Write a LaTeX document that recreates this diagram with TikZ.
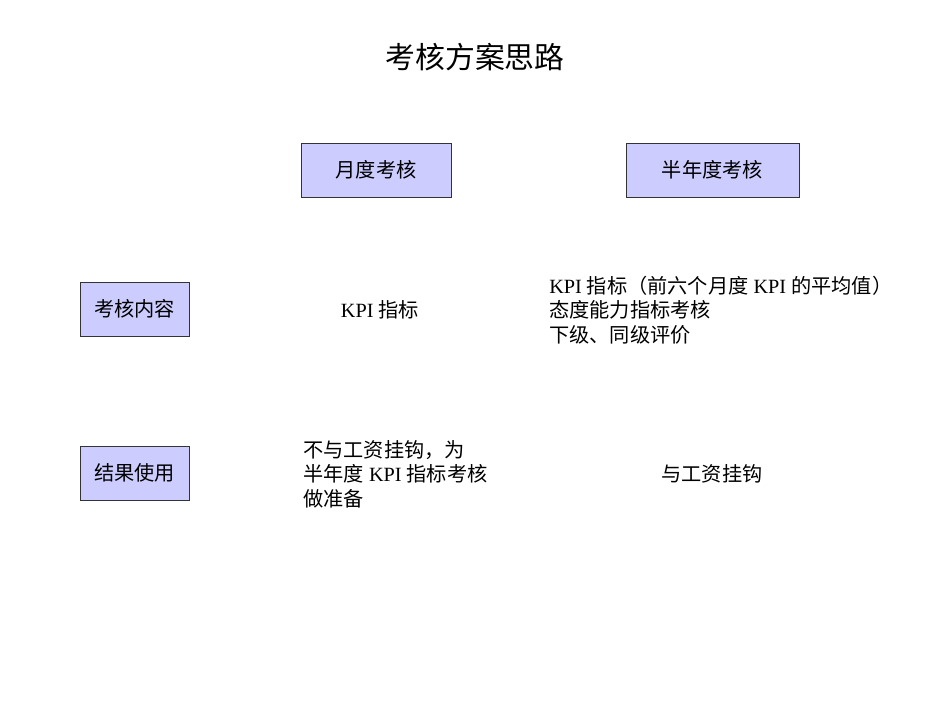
\documentclass[tikz,border=0pt]{standalone}
\usepackage{fontspec}
\setmainfont{Liberation Serif}
\newfontfamily\cjk{Noto Sans CJK SC}
\usetikzlibrary{positioning}
\tikzset{
  head/.style={draw=black!80, fill=blue!20!white, minimum height=1.08cm, inner sep=0pt, font=\fontsize{11.5}{13}\selectfont},
  cell/.style={align=left, inner sep=0pt, font=\fontsize{11.5}{14}\selectfont}
}
\begin{document}
\begin{tikzpicture}[x=0.02cm,y=-0.02cm]
\useasboundingbox (0,0) rectangle (950,713);

\node (title) at (475,57) {\fontsize{17}{20}\selectfont\cjk 考核方案思路};

% column heads
\node[head, minimum width=3cm] (month) at (376,170) {\cjk 月度考核};
\node[head, minimum width=3.46cm] (half) at (712.5,170) {\cjk 半年度考核};

% row heads
\node[head, minimum width=2.18cm] (content) at (134.5,309) {\cjk 考核内容};
\node[head, minimum width=2.18cm] (result) at (134.5,473) {\cjk 结果使用};

% cells
\node[cell] (c11) at (380,310) {KPI {\cjk 指标}};
\node[cell, anchor=west] (c12) at (549,310) {KPI {\cjk 指标（前六个月度} KPI {\cjk 的平均值）}\\{\cjk 态度能力指标考核}\\{\cjk 下级、同级评价}};
\node[cell, anchor=west] (c21) at (303,474) {{\cjk 不与工资挂钩，为}\\{\cjk 半年度} KPI {\cjk 指标考核}\\{\cjk 做准备}};
\node[cell] (c22) at (712,474) {\cjk 与工资挂钩};
\end{tikzpicture}
\end{document}
